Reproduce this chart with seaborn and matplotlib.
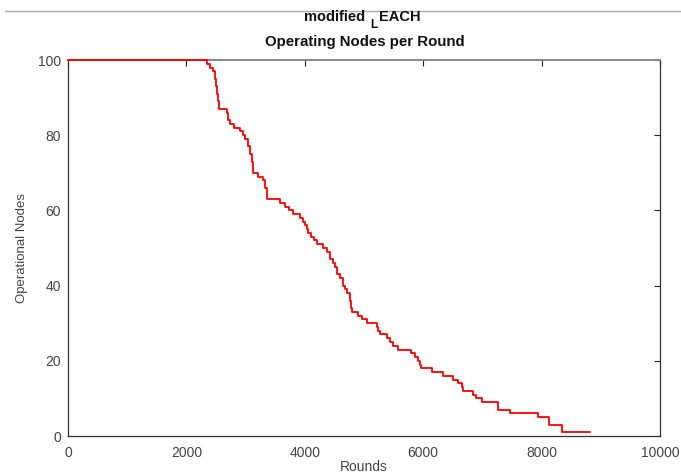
import matplotlib
matplotlib.use("Agg")
import matplotlib.pyplot as plt
from matplotlib.lines import Line2D
import seaborn as sns
import pandas as pd

rounds = [0, 2340, 2400, 2450, 2480, 2500, 2520, 2540, 2550, 2690, 2710, 2736,
          2810, 2905, 2950, 2990, 3046, 3070, 3100, 3130, 3215, 3300, 3330,
          3356, 3581, 3665, 3740, 3806, 3919, 3975, 4010, 4040, 4060, 4110,
          4160, 4200, 4313, 4370, 4426, 4470, 4510, 4550, 4595, 4640, 4679,
          4720, 4764, 4780, 4792, 4904, 4970, 5046, 5215, 5240, 5270, 5383,
          5440, 5495, 5580, 5800, 5861, 5920, 5946, 5957, 6143, 6340, 6509,
          6580, 6650, 6677, 6846, 6900, 6988, 7269, 7466, 7944, 8130, 8339,
          8820]
alive = [100, 99, 98, 97, 95, 93, 91, 89, 87, 86, 84, 83,
         82, 81, 80, 79, 77, 75, 73, 70, 69, 68, 66,
         63, 62, 61, 60, 59, 58, 57, 56, 55, 54, 53,
         52, 51, 50, 49, 47, 46, 45, 43, 42, 40, 39,
         38, 36, 34, 33, 32, 31, 30, 29, 28, 27, 26,
         25, 24, 23, 22, 21, 20, 19, 18, 17, 16, 15,
         14, 13, 12, 11, 10, 9, 7, 6, 5, 3, 1,
         1]

df = pd.DataFrame({"Rounds": rounds, "Operational Nodes": alive})

sns.set_style("white")
plt.rcParams["font.family"] = ["Liberation Sans", "DejaVu Sans"]

fig = plt.figure(figsize=(6.81, 4.75), dpi=100)
ax = fig.add_axes([68 / 681, 1 - 436 / 475, (660 - 68) / 681, (436 - 60) / 475])

sns.lineplot(data=df, x="Rounds", y="Operational Nodes", ax=ax,
             color="red", linewidth=1.3, drawstyle="steps-post",
             estimator=None, sort=False)
for ln in ax.get_lines():
    ln.set_clip_on(False)
    ln.set_zorder(5)

ax.set_xlim(0, 10000)
ax.set_ylim(0, 100)
ax.set_xticks([0, 2000, 4000, 6000, 8000, 10000])
ax.set_yticks([0, 20, 40, 60, 80, 100])
ax.tick_params(direction="in", top=True, right=True, length=4, width=0.8,
               labelsize=10, colors="#222222", labelcolor="#444444")
ax.tick_params(axis="x", pad=7)
ax.tick_params(axis="y", pad=5)
for s in ax.spines.values():
    s.set_visible(True)
    s.set_color("#333333")
    s.set_linewidth(0.9)
    s.set_zorder(2)
ax.spines["top"].set_color("#888888")
ax.spines["top"].set_linewidth(1.4)

ax.set_xlabel("Rounds", fontsize=10, color="#444444", labelpad=0)
ax.set_ylabel("Operational Nodes", fontsize=9.5, color="#444444", labelpad=7,
              family=["Liberation Sans Narrow", "Liberation Sans", "DejaVu Sans"])

# title with subscript L (as rendered in the original)
y1 = 1 - 17 / 475
fig.text(365 / 681, y1, "modified", ha="right", va="center",
         fontsize=10.5, fontweight="bold", color="#111111")
fig.text(370 / 681, y1 - 8 / 475, "L", ha="left", va="center",
         fontsize=8.5, fontweight="bold", color="#111111")
fig.text(379 / 681, y1, "EACH", ha="left", va="center",
         fontsize=10.5, fontweight="bold", color="#111111")
fig.text(365 / 681, 1 - 42 / 475, "Operating Nodes per Round", ha="center", va="center",
         fontsize=10.8, fontweight="bold", color="#111111")

fig.add_artist(Line2D([5 / 681, 1.0], [1 - 11 / 475, 1 - 11 / 475],
                      color="#aaaaaa", linewidth=1.0))

fig.savefig("out.png", dpi=100, facecolor="white")
